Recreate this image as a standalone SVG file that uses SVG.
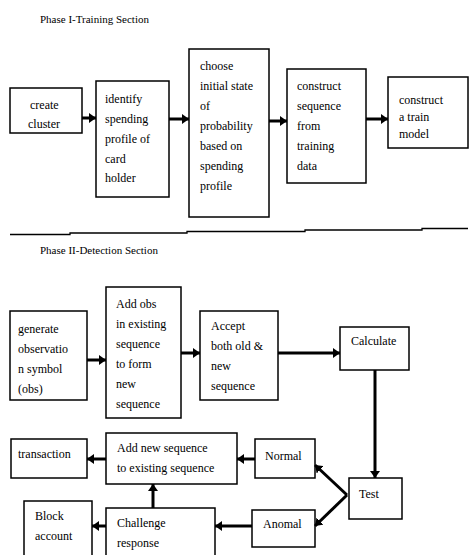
<svg xmlns="http://www.w3.org/2000/svg" width="475" height="555" viewBox="0 0 475 555">
<style>
  .box { fill: #fff; stroke: #000; stroke-width: 1.5; }
  text { font-family: "Liberation Serif", "Times New Roman", serif; font-size: 12px; fill: #000; }
  .title { font-size: 11px; }
  .c { fill: none; stroke: #000; stroke-width: 3; marker-end: url(#ah); }
  .sep { fill: none; stroke: #000; stroke-width: 1.3; }
</style>
<defs>
  <marker id="ah" markerUnits="userSpaceOnUse" markerWidth="8" markerHeight="10" refX="7" refY="5" orient="auto">
    <path d="M0,0 L7,5 L0,10 z" fill="#000"/>
  </marker>
</defs>
<rect width="475" height="555" fill="#fff"/>

<text class="title" x="40" y="23">Phase I-Training Section</text>

<g id="n-create">
  <rect class="box" x="10" y="88" width="72" height="45"/>
  <text x="30" y="109">create</text>
  <text x="28" y="128">cluster</text>
</g>
<g id="n-identify">
  <rect class="box" x="96" y="81" width="73" height="116"/>
  <text x="105" y="103">identify</text>
  <text x="105" y="123">spending</text>
  <text x="105" y="143">profile of</text>
  <text x="105" y="163">card</text>
  <text x="105" y="182">holder</text>
</g>
<g id="n-choose">
  <rect class="box" x="189" y="49" width="80" height="168"/>
  <text x="200" y="70">choose</text>
  <text x="200" y="90">initial state</text>
  <text x="200" y="110">of</text>
  <text x="200" y="130">probability</text>
  <text x="200" y="150">based on</text>
  <text x="200" y="170">spending</text>
  <text x="200" y="190">profile</text>
</g>
<g id="n-constructseq">
  <rect class="box" x="287" y="69" width="79" height="114"/>
  <text x="297" y="90">construct</text>
  <text x="297" y="110">sequence</text>
  <text x="297" y="130">from</text>
  <text x="297" y="150">training</text>
  <text x="297" y="170">data</text>
</g>
<g id="n-train">
  <rect class="box" x="388" y="77" width="80" height="71"/>
  <text x="399" y="104">construct</text>
  <text x="399" y="121">a train</text>
  <text x="399" y="138">model</text>
</g>

<path class="sep" d="M10,234.5 H70 V233 H187 V231.5 H305 V230 H422 V228.5 H468"/>

<text class="title" x="40" y="254">Phase II-Detection Section</text>

<g id="n-generate">
  <rect class="box" x="10" y="311" width="77" height="89"/>
  <text x="18" y="333">generate</text>
  <text x="18" y="353">observatio</text>
  <text x="18" y="373">n symbol</text>
  <text x="18" y="393">(obs)</text>
</g>
<g id="n-addobs">
  <rect class="box" x="106" y="287" width="75" height="131"/>
  <text x="116" y="308">Add obs</text>
  <text x="116" y="328">in existing</text>
  <text x="116" y="348">sequence</text>
  <text x="116" y="368">to form</text>
  <text x="116" y="388">new</text>
  <text x="116" y="408">sequence</text>
</g>
<g id="n-accept">
  <rect class="box" x="200" y="311" width="78" height="89"/>
  <text x="211" y="330">Accept</text>
  <text x="211" y="350">both old &amp;</text>
  <text x="211" y="370">new</text>
  <text x="211" y="390">sequence</text>
</g>
<g id="n-calculate">
  <rect class="box" x="340" y="327" width="69" height="43"/>
  <text x="351" y="345">Calculate</text>
</g>
<g id="n-test">
  <rect class="box" x="349" y="478" width="53" height="41"/>
  <text x="359" y="498">Test</text>
</g>
<g id="n-normal">
  <rect class="box" x="255" y="439" width="60" height="39"/>
  <text x="265" y="460">Normal</text>
</g>
<g id="n-anomal">
  <rect class="box" x="252" y="510" width="63" height="37"/>
  <text x="263" y="528">Anomal</text>
</g>
<g id="n-addnew">
  <rect class="box" x="106" y="433" width="131" height="51"/>
  <text x="117" y="452">Add  new sequence</text>
  <text x="117" y="472">to existing sequence</text>
</g>
<g id="n-transaction">
  <rect class="box" x="11" y="439" width="76" height="39"/>
  <text x="18" y="458">transaction</text>
</g>
<g id="n-block">
  <rect class="box" x="24" y="501" width="68" height="60"/>
  <text x="35" y="520">Block</text>
  <text x="35" y="540">account</text>
</g>
<g id="n-challenge">
  <rect class="box" x="106" y="508" width="109" height="53"/>
  <text x="117" y="527">Challenge</text>
  <text x="117" y="547">response</text>
</g>

<g id="connectors">
  <line class="c" x1="82" y1="118" x2="96" y2="118"/>
  <line class="c" x1="169" y1="119" x2="189" y2="119"/>
  <line class="c" x1="269" y1="121" x2="287" y2="121"/>
  <line class="c" x1="366" y1="119" x2="388" y2="119" stroke-width="4"/>

  <line class="c" x1="87" y1="360" x2="106" y2="360"/>
  <line class="c" x1="181" y1="353" x2="200" y2="353"/>
  <line class="c" x1="278" y1="353" x2="340" y2="353"/>
  <line class="c" x1="375" y1="370" x2="375" y2="478"/>
  <line class="c" x1="255" y1="459" x2="237" y2="459"/>
  <line class="c" x1="106" y1="459" x2="87" y2="459"/>
  <line class="c" x1="347" y1="495" x2="315" y2="465"/>
  <line class="c" x1="347" y1="495" x2="315" y2="526"/>
  <line class="c" x1="252" y1="526" x2="215" y2="526"/>
  <line class="c" x1="153" y1="508" x2="153" y2="484"/>
  <line class="c" x1="106" y1="526" x2="92" y2="526"/>
</g>
</svg>
